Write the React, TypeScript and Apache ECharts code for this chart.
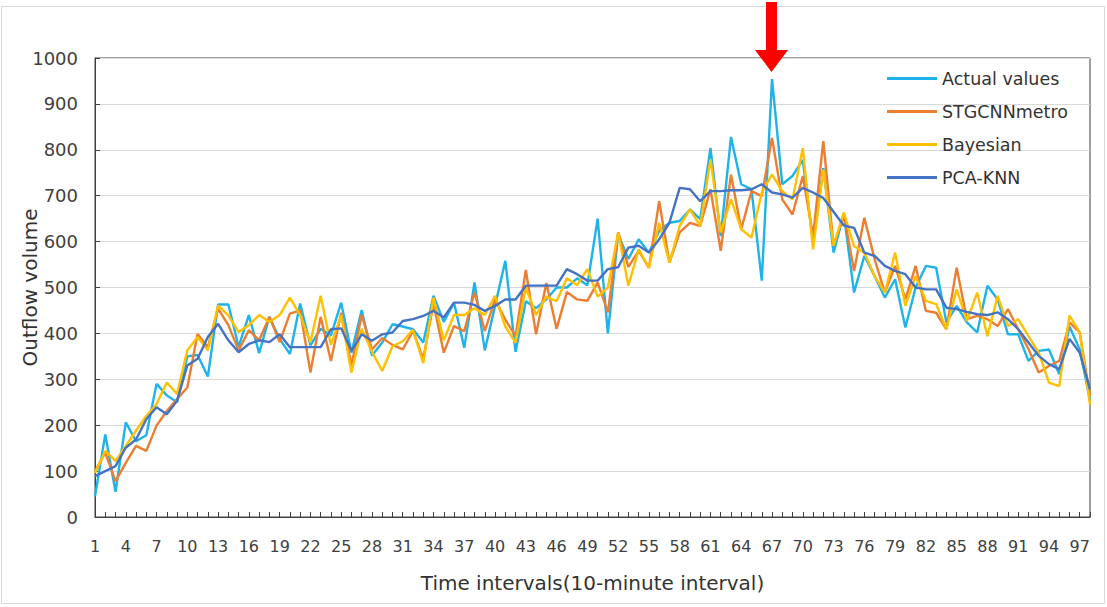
import React, { useEffect, useRef } from "react";
import * as echarts from "echarts";

const categories: string[] = [];
for (let i = 1; i <= 98; i++) categories.push(String(i));

const actualValues = [
  45, 180, 55, 206, 165, 178, 290, 265, 250, 350,
  353, 306, 463, 463, 371, 440, 357, 436, 388, 355,
  465, 374, 410, 395, 467, 358, 451, 352, 380, 420,
  415, 409, 380, 482, 425, 467, 369, 511, 363, 460,
  558, 360, 470, 455, 474, 500, 500, 520, 505, 650,
  400, 616, 562, 605, 576, 623, 641, 645, 670, 649,
  804, 612, 828, 725, 714, 515, 954, 725, 743, 778,
  600, 760, 576, 660, 489, 569, 525, 478, 518, 413,
  500, 547, 543, 424, 460, 424, 402, 504, 474, 398,
  398, 340, 362, 365, 311, 415, 365, 255,
];

const stgcnnMetro = [
  100, 140, 78, 118, 155, 144, 199, 231, 257, 282,
  399, 370, 454, 418, 363, 407, 385, 436, 381, 443,
  450, 315, 436, 340, 445, 330, 440, 365, 390, 375,
  365, 405, 345, 465, 358, 416, 405, 490, 405, 474,
  430, 394, 538, 398, 510, 410, 490, 474, 471, 511,
  446, 620, 545, 580, 543, 688, 554, 620, 641, 634,
  714, 580, 746, 627, 710, 699, 826, 692, 659, 743,
  612, 819, 591, 660, 536, 652, 562, 489, 547, 474,
  547, 449, 445, 409, 543, 431, 438, 431, 416, 453,
  409, 366, 315, 329, 340, 424, 402, 263,
];

const bayesian = [
  96, 144, 122, 155, 188, 220, 246, 293, 268, 363,
  392, 363, 461, 439, 403, 418, 440, 425, 440, 478,
  440, 380, 482, 375, 440, 315, 410, 360, 318, 372,
  383, 408, 335, 478, 385, 440, 440, 455, 440, 482,
  415, 380, 500, 440, 480, 470, 520, 505, 540, 480,
  500, 620, 504, 583, 543, 641, 554, 634, 670, 634,
  779, 620, 692, 627, 609, 707, 746, 710, 692, 804,
  583, 757, 591, 663, 590, 576, 525, 489, 576, 460,
  525, 471, 464, 409, 496, 427, 489, 394, 482, 416,
  431, 394, 358, 293, 285, 439, 402, 245,
];

const pcaKnn = [
  89, 100, 111, 151, 169, 213, 239, 224, 253, 330,
  345, 392, 421, 385, 359, 377, 385, 381, 398, 370,
  370, 370, 370, 409, 411, 362, 398, 384, 398, 402,
  427, 431, 438, 449, 435, 467, 467, 462, 449, 460,
  474, 474, 504, 504, 504, 504, 540, 529, 515, 515,
  540, 544, 587, 591, 576, 605, 641, 717, 714, 688,
  710, 710, 712, 712, 714, 725, 707, 703, 696, 717,
  707, 695, 665, 635, 630, 576, 569, 547, 536, 529,
  500, 496, 496, 456, 453, 447, 442, 440, 446, 431,
  409, 380, 351, 333, 322, 388, 358, 278,
];

const seriesNames = ["Actual values", "STGCNNmetro", "Bayesian", "PCA-KNN"];
const seriesColors = ["#1EB3EA", "#ED7D31", "#FFC000", "#4472C4"];
const seriesData = [actualValues, stgcnnMetro, bayesian, pcaKnn];
const arrowCategory = "67";

export default function App() {
  const ref = useRef<HTMLDivElement>(null);
  useEffect(() => {
    document.body.style.margin = "0";
    const chart = echarts.init(ref.current!, null, { renderer: "svg" });
    const font = "DejaVu Sans";
    chart.setOption({
      animation: false,
      textStyle: { fontFamily: font },
      grid: {
        left: 95,
        top: 58,
        right: 17,
        bottom: 90,
        show: true,
        borderColor: "#404040",
        borderWidth: 1,
        outerBoundsMode: "none",
        containLabel: false,
      },
      legend: {
        orient: "vertical",
        left: 887,
        top: 69,
        padding: 0,
        icon: "rect",
        itemWidth: 50,
        itemHeight: 3,
        itemGap: 14,
        data: seriesNames,
        textStyle: { fontFamily: font, fontSize: 17.5, color: "#333333", lineHeight: 19 },
      },
      xAxis: {
        type: "category",
        data: categories,
        boundaryGap: false,
        name: "Time intervals(10-minute interval)",
        nameLocation: "middle",
        nameGap: 56,
        nameMoveOverlap: false,
        nameTextStyle: { fontFamily: font, fontSize: 20, color: "#333333" },
        axisLine: { lineStyle: { color: "#404040", width: 1 } },
        axisTick: { show: true, inside: true, interval: 0, length: 5, lineStyle: { color: "#404040" } },
        axisLabel: { interval: 2, fontSize: 16, color: "#404040", margin: 21, fontFamily: font },
        splitLine: { show: false },
      },
      yAxis: {
        type: "value",
        min: 0,
        max: 1000,
        interval: 100,
        name: "Outflow volume",
        nameLocation: "middle",
        nameRotate: 90,
        nameGap: 55,
        nameMoveOverlap: false,
        nameTextStyle: { fontFamily: font, fontSize: 20, color: "#333333" },
        axisLine: { show: true, lineStyle: { color: "#404040", width: 1 } },
        axisTick: { show: true, inside: true, length: 5, lineStyle: { color: "#404040" } },
        axisLabel: {
          fontSize: 18,
          color: "#404040",
          margin: 17,
          fontFamily: font,
          formatter: (v: number) => String(v),
        },
        splitLine: { show: true, lineStyle: { color: "#D9D9D9", width: 1 } },
      },
      series: seriesNames.map((name, k) => ({
        name,
        type: "line",
        data: seriesData[k],
        symbol: "none",
        lineStyle: { color: seriesColors[k], width: 2.4 },
        itemStyle: { color: seriesColors[k] },
      })),
    });
    const idx = categories.indexOf(arrowCategory);
    const p = chart.convertToPixel({ gridIndex: 0 }, [idx, 1000]) as number[];
    const ax = p[0];
    chart.setOption({
      graphic: [
        {
          type: "rect",
          shape: { x: 1.5, y: 6.5, width: 1103, height: 597 },
          style: { fill: "none", stroke: "#D9D9D9", lineWidth: 1 },
          z: -1,
        },
        {
          type: "rect",
          shape: { x: ax - 6, y: 2, width: 11, height: 50 },
          style: { fill: "#FF0000" },
          z: 10,
        },
        {
          type: "polygon",
          shape: { points: [[ax - 17, 50], [ax + 16, 50], [ax - 0.5, 72]] },
          style: { fill: "#FF0000" },
          z: 10,
        },
      ],
    });
    return () => chart.dispose();
  }, []);
  return <div ref={ref} style={{ width: 1107, height: 607 }} />;
}
